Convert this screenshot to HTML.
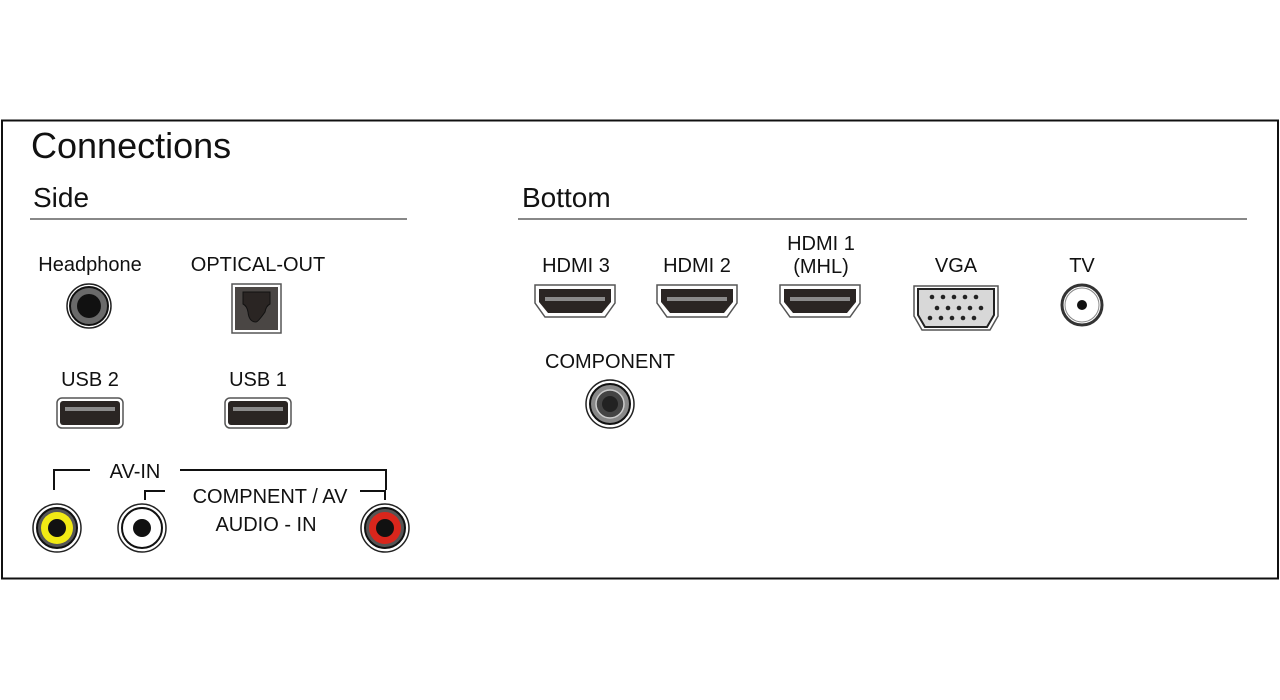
<!DOCTYPE html>
<html><head><meta charset="utf-8"><style>
html,body{margin:0;padding:0;background:#fff;}
svg{display:block;}
text{font-family:"Liberation Sans",sans-serif;fill:#111;}
</style></head><body>
<svg width="1280" height="700" viewBox="0 0 1280 700" xmlns="http://www.w3.org/2000/svg">
<defs>
<g id="hdmi">
<path d="M-40,-16 H40 V2 L30,16 H-30 L-40,2 Z" fill="#fff" stroke="#555" stroke-width="1.5"/>
<path d="M-36,-12 H36 V1 L27,12 H-27 L-36,1 Z" fill="#2a2523"/>
<rect x="-30" y="-4" width="60" height="4" fill="#8a8a8a"/>
</g>
<g id="usb">
<rect x="-33" y="-15" width="66" height="30" rx="5" fill="#fff" stroke="#555" stroke-width="1.5"/>
<rect x="-30" y="-12" width="60" height="24" rx="3" fill="#2a2523"/>
<rect x="-25" y="-6" width="50" height="4" fill="#8a8a8a"/>
</g>
</defs>
<rect x="2" y="120.5" width="1276" height="458" fill="none" stroke="#111" stroke-width="2"/>
<text x="31" y="158" font-size="36">Connections</text>
<text x="33" y="207" font-size="28">Side</text>
<line x1="30" y1="219" x2="407" y2="219" stroke="#888" stroke-width="2"/>
<text x="522" y="207" font-size="28">Bottom</text>
<line x1="518" y1="219" x2="1247" y2="219" stroke="#888" stroke-width="2"/>

<g font-size="20" text-anchor="middle">
<text x="90" y="271">Headphone</text>
<text x="258" y="271">OPTICAL-OUT</text>
<text x="90" y="386">USB 2</text>
<text x="258" y="386">USB 1</text>
<text x="135" y="478">AV-IN</text>
<text x="270" y="503">COMPNENT / AV</text>
<text x="266" y="531">AUDIO - IN</text>
<text x="576" y="272">HDMI 3</text>
<text x="697" y="272">HDMI 2</text>
<text x="821" y="250">HDMI 1</text>
<text x="821" y="273">(MHL)</text>
<text x="956" y="272">VGA</text>
<text x="1082" y="272">TV</text>
<text x="610" y="368">COMPONENT</text>
</g>

<!-- headphone -->
<circle cx="89" cy="306" r="22" fill="#fff" stroke="#222" stroke-width="1.5"/>
<circle cx="89" cy="306" r="19" fill="#6a6a6a" stroke="#111" stroke-width="2"/>
<circle cx="89" cy="306" r="12" fill="#111"/>
<!-- optical -->
<rect x="232" y="284" width="49" height="49" fill="#fff" stroke="#555" stroke-width="1.5"/>
<rect x="235" y="287" width="43" height="43" fill="#4a4644"/>
<path d="M243,292 H270 V304 Q266,306 265,312 Q258,322 256,322 Q249,322 248,312 Q247,306 243,304 Z" fill="#2a2523" stroke="#111"/>
<!-- usb -->
<use href="#usb" x="90" y="413"/>
<use href="#usb" x="258" y="413"/>
<!-- AV lines -->
<path d="M54,490 V470 H90 M180,470 H386 V490" fill="none" stroke="#111" stroke-width="2"/>
<path d="M145,500 V491 H165 M360,491 H385 V500" fill="none" stroke="#111" stroke-width="2"/>
<!-- RCA -->
<g>
<circle cx="57" cy="528" r="24" fill="#fff" stroke="#222" stroke-width="1.5"/>
<circle cx="57" cy="528" r="20" fill="#555" stroke="#111" stroke-width="2"/>
<circle cx="57" cy="528" r="16" fill="#f2ea15"/>
<circle cx="57" cy="528" r="9" fill="#111"/>
</g>
<g>
<circle cx="142" cy="528" r="24" fill="#fff" stroke="#222" stroke-width="1.5"/>
<circle cx="142" cy="528" r="20" fill="#fff" stroke="#111" stroke-width="2"/>
<circle cx="142" cy="528" r="9" fill="#111"/>
</g>
<g>
<circle cx="385" cy="528" r="24" fill="#fff" stroke="#222" stroke-width="1.5"/>
<circle cx="385" cy="528" r="20" fill="#555" stroke="#111" stroke-width="2"/>
<circle cx="385" cy="528" r="16" fill="#d9261c"/>
<circle cx="385" cy="528" r="9" fill="#111"/>
</g>
<!-- HDMI -->
<use href="#hdmi" x="575" y="301"/>
<use href="#hdmi" x="697" y="301"/>
<use href="#hdmi" x="820" y="301"/>
<!-- VGA -->
<path d="M914,286 H998 V316 L990,330 H922 L914,316 Z" fill="#fff" stroke="#555" stroke-width="1.5"/>
<path d="M918,289 H994 V315 L987,327 H925 L918,315 Z" fill="#d8d8d8" stroke="#222" stroke-width="2"/>
<g fill="#222">
<circle cx="932" cy="297" r="2.3"/><circle cx="943" cy="297" r="2.3"/><circle cx="954" cy="297" r="2.3"/><circle cx="965" cy="297" r="2.3"/><circle cx="976" cy="297" r="2.3"/>
<circle cx="937" cy="308" r="2.3"/><circle cx="948" cy="308" r="2.3"/><circle cx="959" cy="308" r="2.3"/><circle cx="970" cy="308" r="2.3"/><circle cx="981" cy="308" r="2.3"/>
<circle cx="930" cy="318" r="2.3"/><circle cx="941" cy="318" r="2.3"/><circle cx="952" cy="318" r="2.3"/><circle cx="963" cy="318" r="2.3"/><circle cx="974" cy="318" r="2.3"/>
</g>
<!-- TV -->
<circle cx="1082" cy="305" r="20" fill="#fff" stroke="#333" stroke-width="3"/>
<circle cx="1082" cy="305" r="17" fill="#fff" stroke="#888" stroke-width="1"/>
<circle cx="1082" cy="305" r="5" fill="#111"/>
<!-- Component -->
<circle cx="610" cy="404" r="24" fill="#fff" stroke="#222" stroke-width="1.5"/>
<circle cx="610" cy="404" r="20" fill="#888" stroke="#111" stroke-width="2"/>
<circle cx="610" cy="404" r="14" fill="#444" stroke="#ccc" stroke-width="1.5"/>
<circle cx="610" cy="404" r="8" fill="#222"/>
</svg>
</body></html>
